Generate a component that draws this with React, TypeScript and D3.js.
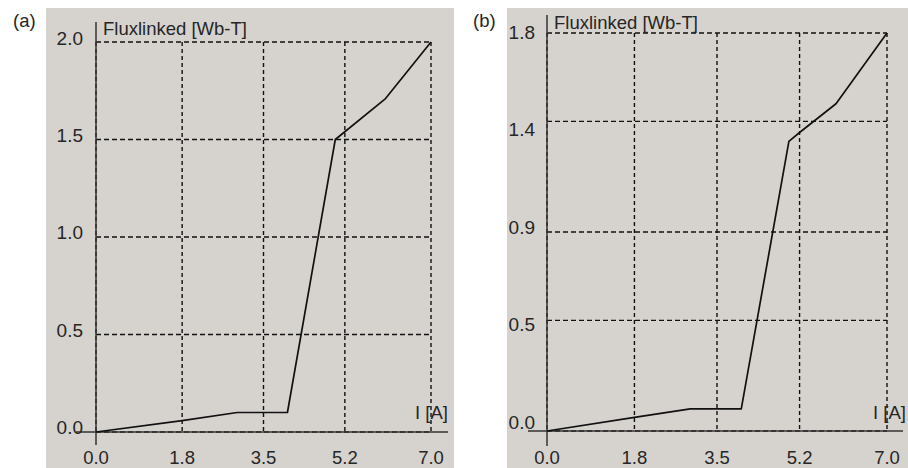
import React from "react";
import * as d3 from "d3";

const xTicks = [0, 1.8, 3.5, 5.2, 7.0];
const xTickLabels = ["0.0", "1.8", "3.5", "5.2", "7.0"];

const leftYTicks = [0, 0.5, 1.0, 1.5, 2.0];
const leftYTickLabels = ["0.0", "0.5", "1.0", "1.5", "2.0"];
const leftCurrent = [0, 1.8, 2.95, 4.0, 5.0, 6.05, 7.0];
const leftFlux = [0, 0.058, 0.1, 0.1, 1.5, 1.71, 2.0];

const rightYTicks = [0, 0.5, 0.9, 1.4, 1.8];
const rightYTickLabels = ["0.0", "0.5", "0.9", "1.4", "1.8"];
const rightCurrent = [0, 1.8, 2.95, 4.0, 4.98, 5.2, 5.95, 7.0];
const rightFlux = [0, 0.062, 0.1, 0.1, 1.31, 1.35, 1.48, 1.8];

const FONT = "'Liberation Sans', Arial, Helvetica, sans-serif";
const BG = "#d6d3ce";
const TXT = "#262626";

type PanelProps = {
  tag: string;
  tagX: number;
  bgX0: number;
  bgX1: number;
  x0: number;
  x1: number;
  y0: number;
  y1: number;
  yMax: number;
  yTicks: number[];
  yLabels: string[];
  lab0: number;
  lab1: number;
  labRight: number;
  current: number[];
  flux: number[];
  axisX0: number;
  axisX1: number;
  axisTop: number;
  axisBottom: number;
  titleY: number;
  iLabelEnd: number;
};

function Panel(p: PanelProps) {
  const x = d3.scaleLinear().domain([0, 7]).range([p.x0, p.x1]);
  const y = d3.scaleLinear().domain([0, p.yMax]).range([p.y0, p.y1]);
  const labY = d3.scaleLinear().domain([0, p.yTicks.length - 1]).range([p.lab0, p.lab1]);
  const pts: [number, number][] = p.current.map((c, i) => [c, p.flux[i]]);
  const line = d3
    .line<[number, number]>()
    .x((d) => x(d[0]))
    .y((d) => y(d[1]));
  const yTop = y(p.yMax);
  const yBot = y(0);
  return (
    <g>
      <rect x={p.bgX0} y={8} width={p.bgX1 - p.bgX0} height={460} fill={BG} />
      <text x={p.tagX} y={27} fontSize={18.5} fontFamily={FONT} fill={TXT}>
        {p.tag}
      </text>
      {p.yTicks.map((t) => (
        <line
          key={"h" + t}
          x1={x(0)}
          x2={x(7)}
          y1={y(t)}
          y2={y(t)}
          stroke="#111"
          strokeWidth={1.3}
          strokeDasharray="5,3"
        />
      ))}
      {xTicks.map((t) => (
        <line
          key={"v" + t}
          x1={x(t)}
          x2={x(t)}
          y1={yTop}
          y2={yBot}
          stroke="#111"
          strokeWidth={1.4}
          strokeDasharray="4,3"
        />
      ))}
      <line x1={p.axisX0} x2={p.axisX1} y1={yBot} y2={yBot} stroke="#333" strokeWidth={1.5} />
      <line x1={x(0)} x2={x(0)} y1={p.axisTop} y2={p.axisBottom} stroke="#333" strokeWidth={1.5} />
      <path d={line(pts) || ""} fill="none" stroke="#111" strokeWidth={1.7} strokeLinejoin="round" />
      {p.yLabels.map((l, i) => (
        <text
          key={"yl" + i}
          x={p.labRight}
          y={labY(i)}
          dy="0.36em"
          textAnchor="end"
          fontSize={19}
          fontFamily={FONT}
          fill={TXT}
        >
          {l}
        </text>
      ))}
      {xTicks.map((t, i) => (
        <text
          key={"xl" + i}
          x={x(t)}
          y={464}
          textAnchor="middle"
          fontSize={18.5}
          fontFamily={FONT}
          fill={TXT}
        >
          {xTickLabels[i]}
        </text>
      ))}
      <text x={x(0) + 7} y={p.titleY} fontSize={18.5} fontFamily={FONT} fill={TXT}>
        Fluxlinked [Wb-T]
      </text>
      <text x={p.iLabelEnd} y={419} textAnchor="end" fontSize={18.5} fontFamily={FONT} fill={TXT}>
        I [A]
      </text>
    </g>
  );
}

export default function App() {
  return (
    <svg
      width={908}
      height={468}
      style={{ position: "fixed", left: 0, top: 0, background: "#fff" }}
    >
      <rect x={0} y={0} width={908} height={468} fill="#fff" />
      <Panel
        tag="(a)"
        tagX={13}
        bgX0={46}
        bgX1={454}
        x0={96}
        x1={431}
        y0={432}
        y1={42}
        yMax={2.0}
        yTicks={leftYTicks}
        yLabels={leftYTickLabels}
        lab0={427}
        lab1={38}
        labRight={83}
        current={leftCurrent}
        flux={leftFlux}
        axisX0={76}
        axisX1={448}
        axisTop={22}
        axisBottom={445}
        titleY={34.5}
        iLabelEnd={448}
      />
      <Panel
        tag="(b)"
        tagX={473}
        bgX0={507}
        bgX1={908}
        x0={547}
        x1={887}
        y0={431}
        y1={33}
        yMax={1.8}
        yTicks={rightYTicks}
        yLabels={rightYTickLabels}
        lab0={422}
        lab1={32}
        labRight={535}
        current={rightCurrent}
        flux={rightFlux}
        axisX0={528}
        axisX1={903}
        axisTop={15}
        axisBottom={446}
        titleY={29}
        iLabelEnd={906}
      />
    </svg>
  );
}
